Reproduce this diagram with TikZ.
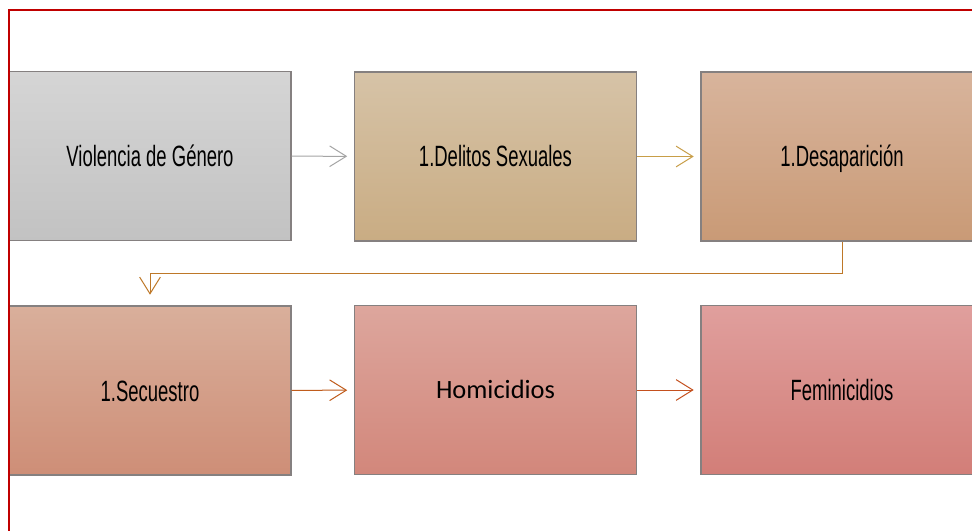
\documentclass[tikz,border=0pt]{standalone}
\usepackage{fontspec}
\setmainfont{Liberation Sans}
\newfontfamily\agency[FakeStretch=0.63]{Liberation Sans}
\newfontfamily\calib{Carlito}
\usetikzlibrary{arrows.meta}
\definecolor{borderred}{HTML}{C00000}
\definecolor{boxedge}{HTML}{858080}
\definecolor{aT}{HTML}{D5D5D5}\definecolor{aB}{HTML}{C2C2C2}
\definecolor{bT}{HTML}{D6C3A7}\definecolor{bB}{HTML}{C9AC83}
\definecolor{cT}{HTML}{D8B49C}\definecolor{cB}{HTML}{C99A76}
\definecolor{dT}{HTML}{D9AF9B}\definecolor{dB}{HTML}{CE8E77}
\definecolor{eT}{HTML}{DDA69D}\definecolor{eB}{HTML}{D2877B}
\definecolor{fT}{HTML}{E09F9D}\definecolor{fB}{HTML}{D27E78}
\definecolor{arA}{RGB}{165,165,165}
\definecolor{arB}{RGB}{200,158,72}
\definecolor{arC}{RGB}{190,120,40}
\definecolor{arD}{RGB}{192,92,28}
\definecolor{arE}{RGB}{196,80,30}
\begin{document}
\begin{tikzpicture}[x=0.75pt,y=-0.75pt,
  stagebox/.style={draw=boxedge, line width=0.9pt, minimum width=211.5pt, minimum height=126.75pt,
    inner sep=0pt, font=\agency\fontsize{22}{26}\selectfont, text=black, text height=15.75pt, text depth=0pt},
  flow/.style={line width=0.75pt, -{Straight Barb[length=12.5pt,width=15.5pt,line width=0.75pt]}, shorten >=5pt}]
\useasboundingbox (0,0) rectangle (972,531);
\fill[white] (0,0) rectangle (972,531);
\begin{scope}
\clip (0,0) rectangle (972,531);
% boxes
\node[stagebox, top color=aT, bottom color=aB] at (150,156) (b1) {Violencia de Género};
\node[stagebox, top color=bT, bottom color=bB] at (495.5,156.5) (b2) {1.Delitos Sexuales};
\node[stagebox, top color=cT, bottom color=cB] at (842,156.5) (b3) {1.Desaparición};
\node[stagebox, top color=dT, bottom color=dB] at (150,390.5) (b4) {1.Secuestro};
\node[stagebox, top color=eT, bottom color=eB, font=\calib\fontsize{19.8}{23}\selectfont, text height=12.75pt] at (495.5,390) (b5) {Homicidios};
\node[stagebox, top color=fT, bottom color=fB] at (842,390) (b6) {Feminicidios};
% connectors
\draw[flow, draw=arA] (b1) -- (b2);
\draw[flow, draw=arB] (b2) -- (b3);
\draw[flow, draw=arC, shorten >=8pt] (b3.south) -- ++(0,32) -| (b4.north);
\draw[flow, draw=arD] (b4) -- (b5);
\draw[flow, draw=arE] (b5) -- (b6);
% frame
\draw[borderred, line width=1.6pt] (9,535) -- (9,10) -- (980,10);
\end{scope}
\end{tikzpicture}
\end{document}
